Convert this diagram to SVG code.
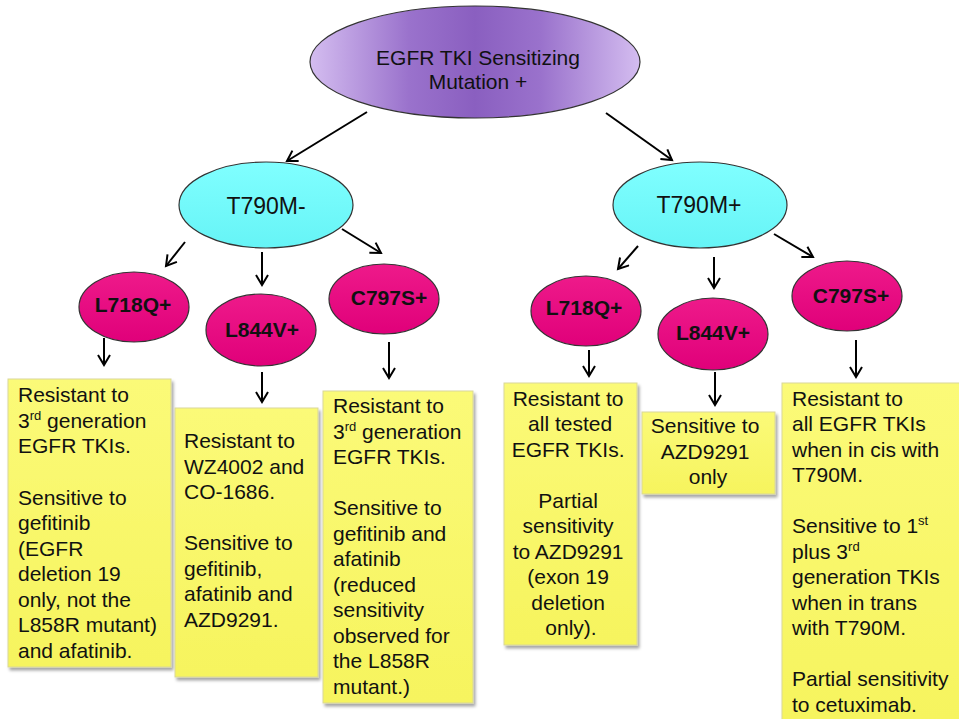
<svg xmlns="http://www.w3.org/2000/svg" width="959" height="719" viewBox="0 0 959 719">
<defs>
<linearGradient id="gPurple" x1="0" y1="0" x2="1" y2="0">
<stop offset="0" stop-color="#D4BDF0"/><stop offset="0.3" stop-color="#9A72CC"/><stop offset="0.5" stop-color="#8A5FC0"/><stop offset="0.7" stop-color="#9A72CC"/><stop offset="1" stop-color="#D4BDF0"/>
</linearGradient>
<linearGradient id="gCyan" x1="0" y1="0" x2="0" y2="1">
<stop offset="0" stop-color="#80FFFF"/><stop offset="1" stop-color="#66F4F6"/>
</linearGradient>
<linearGradient id="gPink" x1="0" y1="0" x2="0" y2="1">
<stop offset="0" stop-color="#EE1A8A"/><stop offset="1" stop-color="#E0007A"/>
</linearGradient>
<linearGradient id="gYellow" x1="0" y1="0" x2="0" y2="1">
<stop offset="0" stop-color="#FBFA78"/><stop offset="1" stop-color="#F6F45E"/>
</linearGradient>
<filter id="sh" x="-10%" y="-10%" width="130%" height="130%">
<feDropShadow dx="2" dy="3" stdDeviation="1.5" flood-color="#000" flood-opacity="0.35"/>
</filter>
<marker id="ah" markerWidth="14" markerHeight="14" refX="11" refY="7" orient="auto" markerUnits="userSpaceOnUse">
<path d="M1,1 L11,7 L1,13" fill="none" stroke="#000" stroke-width="2"/>
</marker>
</defs>
<style>
.ell{stroke:#333;stroke-width:1.2}
.t{font-family:"Liberation Sans",Arial,sans-serif;fill:#111}
.big{font-size:21px}
.node{font-size:23px}
.pk{font-size:21px;font-weight:bold}
.bx{fill:url(#gYellow);stroke:#D9D79A;stroke-width:1;filter:url(#sh)}
.bt{font-family:"Liberation Sans",Arial,sans-serif;font-size:21px;fill:#111}
.sup{font-size:13px}
.c{stroke:#000;stroke-width:2;fill:none;marker-end:url(#ah)}
</style>

<g id="connectors">
<line class="c" x1="367" y1="112" x2="287" y2="161"/>
<line class="c" x1="606" y1="113" x2="672" y2="160"/>
<line class="c" x1="185" y1="242" x2="166" y2="266"/>
<line class="c" x1="262" y1="252" x2="262" y2="285"/>
<line class="c" x1="342" y1="229" x2="381" y2="253"/>
<line class="c" x1="638" y1="246" x2="618" y2="269"/>
<line class="c" x1="714" y1="257" x2="714" y2="288"/>
<line class="c" x1="774" y1="234" x2="813" y2="257"/>
<line class="c" x1="104" y1="338" x2="104" y2="365"/>
<line class="c" x1="262" y1="372" x2="262" y2="402"/>
<line class="c" x1="389" y1="342" x2="389" y2="378"/>
<line class="c" x1="589" y1="350" x2="589" y2="376"/>
<line class="c" x1="715" y1="372" x2="715" y2="405"/>
<line class="c" x1="856" y1="340" x2="856" y2="377"/>
</g>

<g id="root">
<ellipse class="ell" cx="475" cy="62" rx="165" ry="56" fill="url(#gPurple)"/>
<text class="t big" x="478" y="65" text-anchor="middle">EGFR TKI Sensitizing</text>
<text class="t big" x="478" y="89" text-anchor="middle">Mutation +</text>
</g>

<g id="t790m-neg">
<ellipse class="ell" cx="266" cy="205" rx="87" ry="43" fill="url(#gCyan)"/>
<text class="t node" x="266" y="214" text-anchor="middle">T790M-</text>
</g>
<g id="t790m-pos">
<ellipse class="ell" cx="700" cy="205" rx="87" ry="43" fill="url(#gCyan)"/>
<text class="t node" x="699" y="213" text-anchor="middle">T790M+</text>
</g>

<g id="l718q-left">
<ellipse class="ell" cx="134" cy="307" rx="55" ry="35" fill="url(#gPink)"/>
<text class="t pk" x="133" y="312" text-anchor="middle">L718Q+</text>
</g>
<g id="l844v-left">
<ellipse class="ell" cx="261" cy="330" rx="55" ry="36" fill="url(#gPink)"/>
<text class="t pk" x="262" y="337" text-anchor="middle">L844V+</text>
</g>
<g id="c797s-left">
<ellipse class="ell" cx="384" cy="299" rx="55" ry="35" fill="url(#gPink)"/>
<text class="t pk" x="389" y="305" text-anchor="middle">C797S+</text>
</g>
<g id="l718q-right">
<ellipse class="ell" cx="586" cy="311" rx="55" ry="35" fill="url(#gPink)"/>
<text class="t pk" x="584" y="315" text-anchor="middle">L718Q+</text>
</g>
<g id="l844v-right">
<ellipse class="ell" cx="713" cy="334" rx="55" ry="36" fill="url(#gPink)"/>
<text class="t pk" x="713" y="340" text-anchor="middle">L844V+</text>
</g>
<g id="c797s-right">
<ellipse class="ell" cx="847" cy="296" rx="55" ry="35" fill="url(#gPink)"/>
<text class="t pk" x="851" y="303" text-anchor="middle">C797S+</text>
</g>

<g id="box1">
<rect class="bx" x="8" y="379" width="163" height="288"/>
<text class="bt">
<tspan x="18" y="402">Resistant to</tspan>
<tspan x="18" y="428">3<tspan class="sup" dy="-8">rd</tspan><tspan dy="8"> generation</tspan></tspan>
<tspan x="18" y="453">EGFR TKIs.</tspan>
<tspan x="18" y="505">Sensitive to</tspan>
<tspan x="18" y="530">gefitinib</tspan>
<tspan x="18" y="556">(EGFR</tspan>
<tspan x="18" y="581">deletion 19</tspan>
<tspan x="18" y="607">only, not the</tspan>
<tspan x="18" y="632">L858R mutant)</tspan>
<tspan x="18" y="658">and afatinib.</tspan>
</text>
</g>

<g id="box2">
<rect class="bx" x="175" y="408" width="143" height="269"/>
<text class="bt">
<tspan x="184" y="448">Resistant to</tspan>
<tspan x="184" y="474">WZ4002 and</tspan>
<tspan x="184" y="499">CO-1686.</tspan>
<tspan x="184" y="550">Sensitive to</tspan>
<tspan x="184" y="576">gefitinib,</tspan>
<tspan x="184" y="601">afatinib and</tspan>
<tspan x="184" y="627">AZD9291.</tspan>
</text>
</g>

<g id="box3">
<rect class="bx" x="323" y="391" width="150" height="312"/>
<text class="bt">
<tspan x="333" y="413">Resistant to</tspan>
<tspan x="333" y="439">3<tspan class="sup" dy="-8">rd</tspan><tspan dy="8"> generation</tspan></tspan>
<tspan x="333" y="464">EGFR TKIs.</tspan>
<tspan x="333" y="515">Sensitive to</tspan>
<tspan x="333" y="541">gefitinib and</tspan>
<tspan x="333" y="566">afatinib</tspan>
<tspan x="333" y="592">(reduced</tspan>
<tspan x="333" y="617">sensitivity</tspan>
<tspan x="333" y="643">observed for</tspan>
<tspan x="333" y="668">the L858R</tspan>
<tspan x="333" y="694">mutant.)</tspan>
</text>
</g>

<g id="box4">
<rect class="bx" x="504" y="383" width="133" height="262"/>
<text class="bt" text-anchor="middle">
<tspan x="571" y="406">Resistant to</tspan>
<tspan x="573" y="431">all tested</tspan>
<tspan x="571" y="457">EGFR TKIs.</tspan>
<tspan x="571" y="508">Partial</tspan>
<tspan x="571" y="533">sensitivity</tspan>
<tspan x="571" y="559">to AZD9291</tspan>
<tspan x="571" y="584">(exon 19</tspan>
<tspan x="571" y="610">deletion</tspan>
<tspan x="571" y="635">only).</tspan>
</text>
</g>

<g id="box5">
<rect class="bx" x="642" y="412" width="133" height="82"/>
<text class="bt" text-anchor="middle">
<tspan x="708" y="433">Sensitive to</tspan>
<tspan x="708" y="459">AZD9291</tspan>
<tspan x="708" y="484">only</tspan>
</text>
</g>

<g id="box6">
<rect class="bx" x="782" y="383" width="185" height="345"/>
<text class="bt">
<tspan x="792" y="406">Resistant to</tspan>
<tspan x="792" y="431">all EGFR TKIs</tspan>
<tspan x="792" y="457">when in cis with</tspan>
<tspan x="792" y="482">T790M.</tspan>
<tspan x="792" y="533">Sensitive to 1<tspan class="sup" dy="-8">st</tspan></tspan>
<tspan x="792" y="559">plus 3<tspan class="sup" dy="-8">rd</tspan></tspan>
<tspan x="792" y="584">generation TKIs</tspan>
<tspan x="792" y="610">when in trans</tspan>
<tspan x="792" y="635">with T790M.</tspan>
<tspan x="792" y="686">Partial sensitivity</tspan>
<tspan x="792" y="712">to cetuximab.</tspan>
</text>
</g>
</svg>
